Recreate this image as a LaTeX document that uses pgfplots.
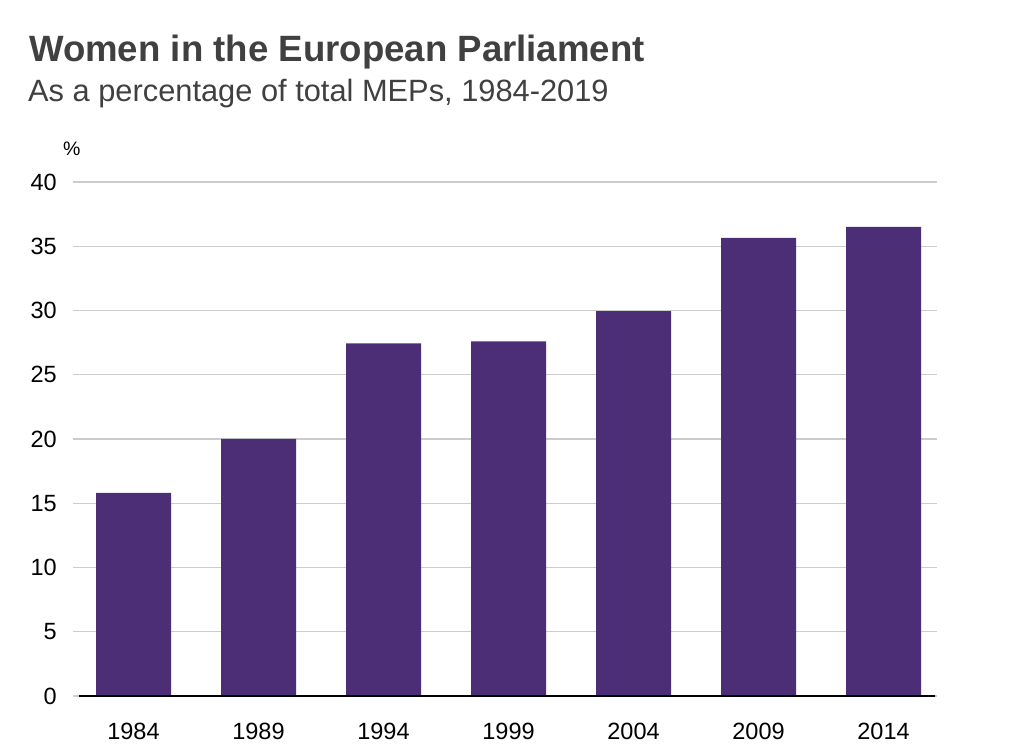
\documentclass[border=0pt]{standalone}
\usepackage{fontspec}
\setmainfont{Liberation Sans}
\usepackage{pgfplots}
\pgfplotsset{compat=1.18}
\definecolor{barcol}{RGB}{75,46,117}
\definecolor{titlecol}{RGB}{64,64,64}
\definecolor{gridcol}{RGB}{204,204,204}
\begin{document}
\begin{tikzpicture}[x=1bp,y=1bp]
\path[use as bounding box] (0,0) rectangle (1024,754);
\node[anchor=base west, inner sep=0pt, text=titlecol, font=\fontsize{36.6bp}{40bp}\selectfont\bfseries] at (29,754-62) {Women in the European Parliament};
\node[anchor=base west, inner sep=0pt, text=titlecol, font=\fontsize{30.8bp}{34bp}\selectfont] at (28,754-102) {As a percentage of total MEPs, 1984-2019};
\node[anchor=base west, inner sep=0pt, font=\fontsize{19.5bp}{22bp}\selectfont] at (63,754-156) {\%};
\begin{axis}[
  at={(73bp,58bp)}, anchor=south west,
  scale only axis, width=864bp, height=514bp,
  xmin=-0.484, xmax=6.428, ymin=0, ymax=40,
  axis line style={draw=none},
  ytick={0,5,...,40}, xtick={0,...,6},
  xticklabels={1984,1989,1994,1999,2004,2009,2014},
  major tick length=0pt,
  ymajorgrids, grid style={gridcol, line width=1.3bp},
  tick label style={font=\fontsize{23.5bp}{26bp}\selectfont, text=black},
  /pgf/number format/assume math mode=true,
  yticklabel style={anchor=east, inner sep=0pt, xshift=-16bp},
  xticklabel style={anchor=north, inner sep=0pt, yshift=-27bp},
  clip=false,
]
\addplot[ybar, bar width=0.6, fill=barcol, draw=none] coordinates {
 (0,15.8) (1,20.0) (2,27.45) (3,27.6) (4,29.95) (5,35.65) (6,36.5)
};
\draw[black, line width=2bp] (axis cs:-0.436,0) -- (axis cs:6.412,0);
\end{axis}
\end{tikzpicture}
\end{document}
